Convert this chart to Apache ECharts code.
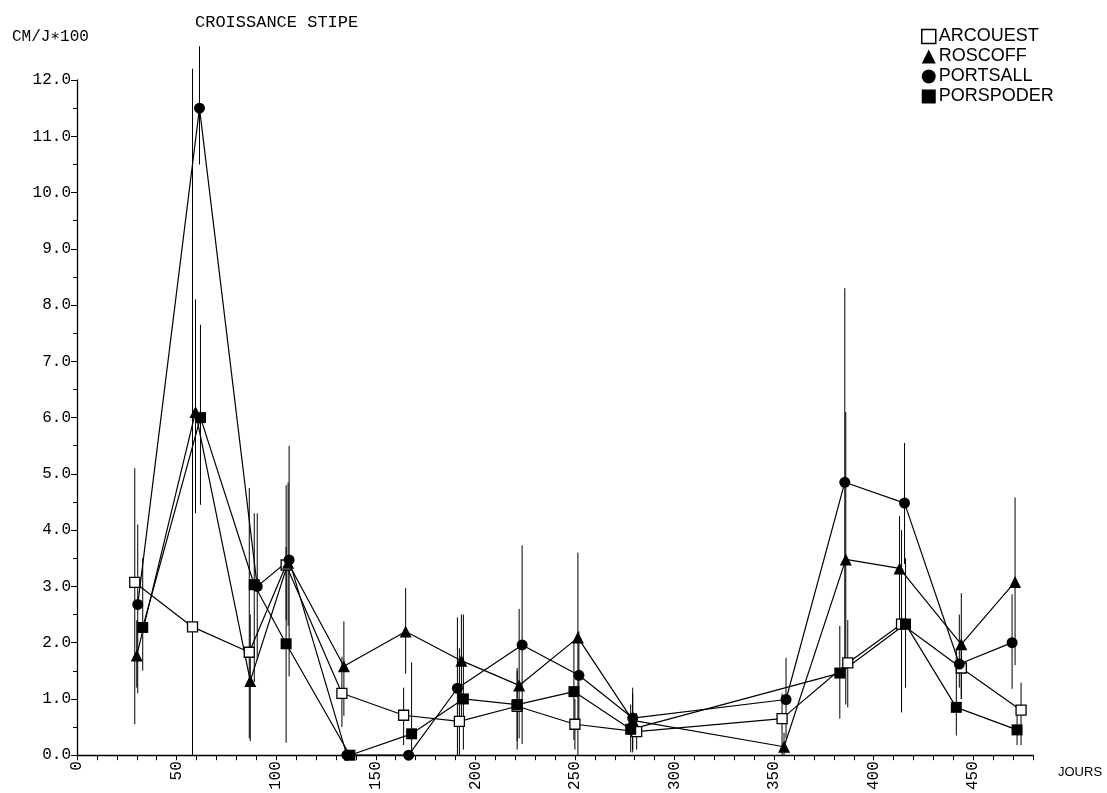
<!DOCTYPE html>
<html>
<head>
<meta charset="utf-8">
<script src="https://cdn.jsdelivr.net/npm/echarts@6/dist/echarts.min.js"></script>
<style>
  html, body { margin: 0; padding: 0; background: #fff; }
  #chart { width: 1107px; height: 793px; }
</style>
</head>
<body>
<div id="chart"></div>
<script>
// Stipe growth (cm/day x100) by sampling day, four stations.
// Each point carries a low/high range drawn as a vertical bar.

const arcouestDays   = [29, 58, 86.5, 105, 133, 164, 192, 221, 250, 281, 354, 387, 414, 444, 474];
const arcouestValues = [3.07, 2.28, 1.83, 3.38, 1.10, 0.71, 0.60, 0.87, 0.55, 0.42, 0.65, 1.64, 2.33, 1.55, 0.80];
const arcouestLow    = [0.55, 0.00, 0.30, 2.40, 0.50, 0.18, 0.00, 0.25, 0.10, 0.10, 0.00, 0.85, 0.76, 1.00, 0.18];
const arcouestHigh   = [5.10, 12.2, 4.75, 4.80, 1.75, 1.20, 1.90, 1.55, 1.00, 0.75, 1.10, 2.40, 4.00, 2.00, 1.29];

const roscoffDays    = [30, 59.5, 87, 106, 134, 165, 193, 222, 251.5, 279, 355, 386, 413, 444, 471];
const roscoffValues  = [1.77, 6.10, 1.32, 3.42, 1.58, 2.20, 1.68, 1.24, 2.09, 0.62, 0.15, 3.48, 3.32, 1.97, 3.08];
const roscoffLow     = [1.20, 4.30, 0.25, 2.30, 0.70, 1.45, 0.50, 0.30, 0.00, 0.05, 0.00, 0.90, 2.30, 1.00, 1.60];
const roscoffHigh    = [2.40, 8.10, 2.50, 4.85, 2.38, 2.97, 2.50, 2.60, 3.60, 1.20, 0.40, 6.10, 4.25, 2.88, 4.58];

const portsallDays   = [30.5, 61.5, 90.5, 106.5, 135.5, 166.5, 191, 223.5, 252, 279, 356, 385.5, 415.5, 443, 469.5];
const portsallValues = [2.68, 11.50, 3.00, 3.47, 0.00, 0.00, 1.19, 1.96, 1.42, 0.66, 0.99, 4.85, 4.48, 1.62, 2.00];
const portsallLow    = [1.10, 10.50, 1.70, 1.40, 0.00, 0.00, 0.00, 0.20, 0.60, 0.10, 0.30, 1.40, 3.40, 1.20, 1.18];
const portsallHigh   = [4.10, 12.60, 4.30, 5.50, 0.00, 0.00, 2.45, 3.73, 2.20, 1.10, 1.73, 8.30, 5.55, 2.50, 2.86];

const porspoderDays   = [33, 62, 89, 105, 137, 168, 194, 221, 249.5, 278, 383, 416, 441.5, 472];
const porspoderValues = [2.27, 6.00, 3.03, 1.98, 0.00, 0.38, 1.00, 0.90, 1.13, 0.46, 1.46, 2.33, 0.85, 0.45];
const porspoderLow    = [1.50, 4.45, 1.30, 0.22, 0.00, 0.00, 0.10, 0.10, 0.27, 0.05, 0.65, 1.20, 0.35, 0.18];
const porspoderHigh   = [3.50, 7.65, 4.30, 3.70, 0.00, 1.65, 2.50, 1.50, 2.00, 0.90, 2.30, 3.50, 1.90, 0.80];

const stationNames = ['ARCOUEST', 'ROSCOFF', 'PORTSALL', 'PORSPODER'];
const chartTitle = 'CROISSANCE STIPE';
const yAxisTitle = 'CM/J\u2217100';
const xAxisTitle = 'JOURS';

const MONO = '"Liberation Mono", "DejaVu Sans Mono", monospace';
const SANS = '"Liberation Sans", "DejaVu Sans", sans-serif';

function pairs(days, values) {
  return days.map((d, i) => [d, values[i]]);
}

function rangeBars(name, days, low, high) {
  return {
    type: 'custom',
    name: name + ' range',
    silent: true,
    z: 1,
    data: days.map((d, i) => [d, low[i], high[i]]),
    renderItem: function (params, api) {
      const lo = api.value(1), hi = api.value(2);
      if (hi <= lo) return null;
      const a = api.coord([api.value(0), lo]);
      const b = api.coord([api.value(0), hi]);
      return {
        type: 'line',
        shape: { x1: a[0], y1: a[1], x2: b[0], y2: b[1] },
        style: { stroke: '#000', lineWidth: 1 }
      };
    }
  };
}

function stationLine(name, days, values, symbol, size, itemStyle) {
  return {
    type: 'line',
    name: name,
    data: pairs(days, values),
    symbol: symbol,
    symbolSize: size,
    showAllSymbol: true,
    z: 3,
    lineStyle: { color: '#000', width: 1.2 },
    itemStyle: itemStyle
  };
}

const chart = echarts.init(document.getElementById('chart'), null, { renderer: 'canvas' });

chart.setOption({
  animation: false,
  backgroundColor: '#fff',
  title: {
    text: chartTitle,
    left: 190,
    top: 9,
    textStyle: { fontFamily: MONO, fontSize: 17, fontWeight: 'normal', color: '#000' }
  },
  graphic: [
    { type: 'text', left: 12, top: 29,
      style: { text: yAxisTitle, font: '16px ' + MONO, fill: '#000' } },
    { type: 'text', left: 1058, top: 766,
      style: { text: xAxisTitle, font: '13px ' + SANS, fill: '#000' } }
  ],
  legend: {
    orient: 'vertical',
    left: 921,
    top: 27,
    padding: 0,
    itemWidth: 14,
    itemHeight: 14,
    itemGap: 1,
    selectedMode: false,
    textStyle: { fontFamily: SANS, fontSize: 18, lineHeight: 19, color: '#000', padding: [0, 0, 0, -2] },
    data: [
      { name: stationNames[0], icon: 'rect',
        itemStyle: { color: '#fff', borderColor: '#000', borderWidth: 1.5 } },
      { name: stationNames[1], icon: 'triangle' },
      { name: stationNames[2], icon: 'circle' },
      { name: stationNames[3], icon: 'rect' }
    ]
  },
  grid: { left: 77, right: 74, top: 80, bottom: 33, containLabel: false },
  xAxis: {
    type: 'value',
    min: 0,
    max: 480,
    interval: 10,
    splitLine: { show: false },
    axisLine: { lineStyle: { color: '#000', width: 1.3 } },
    axisTick: { length: 5, lineStyle: { color: '#000' } },
    axisLabel: {
      rotate: 90,
      margin: 6,
      interval: 0,
      fontFamily: MONO,
      fontSize: 16,
      color: '#000',
      formatter: v => (v % 50 === 0 ? String(v) : '')
    }
  },
  yAxis: {
    type: 'value',
    min: 0,
    max: 12,
    interval: 1,
    splitLine: { show: false },
    axisLine: { lineStyle: { color: '#000', width: 1.3 } },
    axisTick: { length: 6, lineStyle: { color: '#000' } },
    minorTick: { show: true, splitNumber: 2, length: 4, lineStyle: { color: '#000' } },
    axisLabel: {
      margin: 6,
      fontFamily: MONO,
      fontSize: 16,
      color: '#000',
      formatter: v => v.toFixed(1)
    }
  },
  series: [
    rangeBars(stationNames[0], arcouestDays, arcouestLow, arcouestHigh),
    rangeBars(stationNames[1], roscoffDays, roscoffLow, roscoffHigh),
    rangeBars(stationNames[2], portsallDays, portsallLow, portsallHigh),
    rangeBars(stationNames[3], porspoderDays, porspoderLow, porspoderHigh),
    stationLine(stationNames[0], arcouestDays, arcouestValues, 'rect', 10,
      { color: '#fff', borderColor: '#000', borderWidth: 1.3 }),
    stationLine(stationNames[1], roscoffDays, roscoffValues, 'triangle', 12,
      { color: '#000' }),
    stationLine(stationNames[2], portsallDays, portsallValues, 'circle', 11,
      { color: '#000' }),
    stationLine(stationNames[3], porspoderDays, porspoderValues, 'rect', 11,
      { color: '#000' })
  ]
});
</script>
</body>
</html>
